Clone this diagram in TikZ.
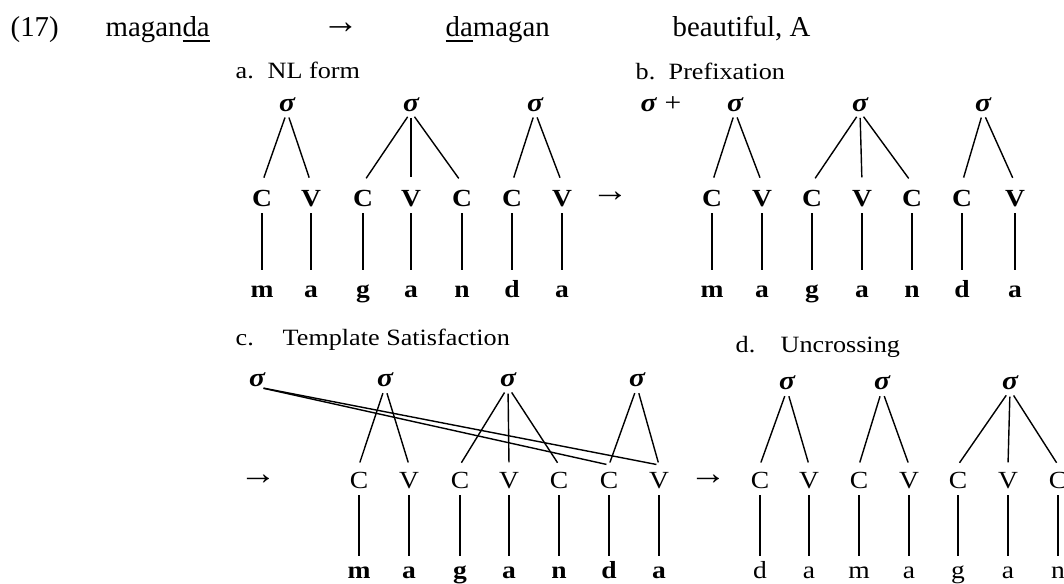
\documentclass[tikz,border=0pt]{standalone}
\usepackage{fontspec}
\setmainfont{Liberation Serif}
\newfontfamily\scanfont[FakeStretch=1.12]{Liberation Serif}
\usetikzlibrary{calc,positioning}
\newcommand\ulin[1]{\setbox0\hbox{#1}\rlap{\rule[-2.9pt]{\wd0}{1.4pt}}\box0}
\newcommand\hdfont{\fontsize{16.4}{19}\selectfont}
\newcommand\lbfont{\scanfont\fontsize{13.3}{16}\selectfont}

\begin{document}
\begin{tikzpicture}[x=0.02cm,y=-0.02cm,line width=0.8pt,
    hd/.style={font=\hdfont,inner sep=0pt,anchor=base west},
    lb/.style={font=\lbfont,inner sep=0pt,anchor=base west},
    sg/.style={font=\scanfont\bfseries\itshape\fontsize{15}{16}\selectfont,inner sep=0pt,text height=7pt,text depth=0pt},
    cvb/.style={font=\scanfont\bfseries\fontsize{14}{16}\selectfont,inner xsep=0pt,inner ysep=3.5pt,text height=9.3pt,text depth=0pt},
    cvr/.style={cvb,font=\scanfont\fontsize{14}{16}\selectfont},
    segb/.style={font=\scanfont\bfseries\fontsize{14}{16}\selectfont,inner sep=0pt,text height=6.4pt,text depth=0pt},
    segr/.style={segb,font=\scanfont\fontsize{14}{16}\selectfont},
    ar/.style={font=\scanfont\fontsize{19}{20}\selectfont,inner sep=0pt},
    brab/.style={shorten <=3.4pt,shorten >=3.2pt},
    brcd/.style={shorten <=3.8pt,shorten >=1.5pt},
    vlab/.style={shorten >=9.2pt},
    vlcd/.style={shorten >=5.8pt}]
  \useasboundingbox (0,0) rectangle (1064,584);
  \node[hd] (num) at (10,37) {(17)};
  \node[hd] (src) at (105,37) {magan\ulin{da}};
  \node[hd,anchor=center,font=\bfseries\fontsize{21}{22}\selectfont] (harr) at (341,28) {→};
  \node[hd] (out) at (445,37) {\ulin{da}magan};
  \node[hd] (gloss) at (672,37) {beautiful, A};
  \node[lb] (la) at (235,79) {a.};
  \node[lb] (ta) at (267,79) {NL form};
  \node[lb] (lb) at (635,80) {b.};
  \node[lb] (tb) at (668,80) {Prefixation};
  \node[lb] (lc) at (235,345) {c.};
  \node[lb] (tc) at (282,345) {Template Satisfaction};
  \node[lb] (ld) at (735,352) {d.};
  \node[lb] (td) at (780,352) {Uncrossing};
  \foreach \x/\t/\s [count=\i] in {262/C/m,311/V/a,363/C/g,411/V/a,462/C/n,512/C/d,562/V/a}{
    \node[cvb] (a\i) at (\x,198) {\t};
    \node[segb] (am\i) at (\x,292) {\s};
    \draw[vlab] (a\i.south) -- (am\i.north);
  }
  \node[sg] (sa1) at (287,105) {σ};
  \node[sg] (sa2) at (411,105) {σ};
  \node[sg] (sa3) at (535,105) {σ};
  \foreach \s/\c in {sa1/a1,sa1/a2,sa2/a3,sa2/a4,sa2/a5,sa3/a6,sa3/a7}
    \draw[brab] (\s.south) -- (\c.north);
  \node[ar] (arab) at (610,197) {→};
  \foreach \x/\t/\s [count=\i] in {712/C/m,762/V/a,812/C/g,862/V/a,912/C/n,962/C/d,1015/V/a}{
    \node[cvb] (b\i) at (\x,198) {\t};
    \node[segb] (bm\i) at (\x,292) {\s};
    \draw[vlab] (b\i.south) -- (bm\i.north);
  }
  \node[sg,anchor=west] (pre) at (640,105) {σ\hspace{0.3em}\upshape\mdseries+};
  \node[sg] (sb1) at (735,105) {σ};
  \node[sg] (sb2) at (860,105) {σ};
  \node[sg] (sb3) at (983,105) {σ};
  \foreach \s/\c in {sb1/b1,sb1/b2,sb2/b3,sb2/b4,sb2/b5,sb3/b6,sb3/b7}
    \draw[brab] (\s.south) -- (\c.north);
  \node[ar] (arc) at (258,480) {→};
  \foreach \x/\t/\s [count=\i] in {359/C/m,409/V/a,460/C/g,509/V/a,559/C/n,609/C/d,659/V/a}{
    \node[cvr] (c\i) at (\x,480) {\t};
    \node[segb] (cm\i) at (\x,573) {\s};
    \draw[vlcd] (c\i.south) -- (cm\i.north);
  }
  \node[sg] (sc0) at (257,380) {σ};
  \node[sg] (sc1) at (385,380) {σ};
  \node[sg] (sc2) at (508,380) {σ};
  \node[sg] (sc3) at (637,380) {σ};
  \foreach \s/\c in {sc1/c1,sc1/c2,sc2/c3,sc2/c4,sc2/c5,sc3/c6,sc3/c7,sc0/c6,sc0/c7}
    \draw[brcd] (\s.south) -- (\c.north);
  \node[ar] (arcd) at (708,480) {→};
  \foreach \x/\t/\s [count=\i] in {760/C/d,809/V/a,859/C/m,909/V/a,958/C/g,1008/V/a,1058/C/n}{
    \node[cvr] (d\i) at (\x,480) {\t};
    \node[segr] (dm\i) at (\x,573) {\s};
    \draw[vlcd] (d\i.south) -- (dm\i.north);
  }
  \node[sg] (sd1) at (787,383) {σ};
  \node[sg] (sd2) at (882,383) {σ};
  \node[sg] (sd3) at (1010,383) {σ};
  \foreach \s/\c in {sd1/d1,sd1/d2,sd2/d3,sd2/d4,sd3/d5,sd3/d6,sd3/d7}
    \draw[brcd] (\s.south) -- (\c.north);
\end{tikzpicture}
\end{document}
